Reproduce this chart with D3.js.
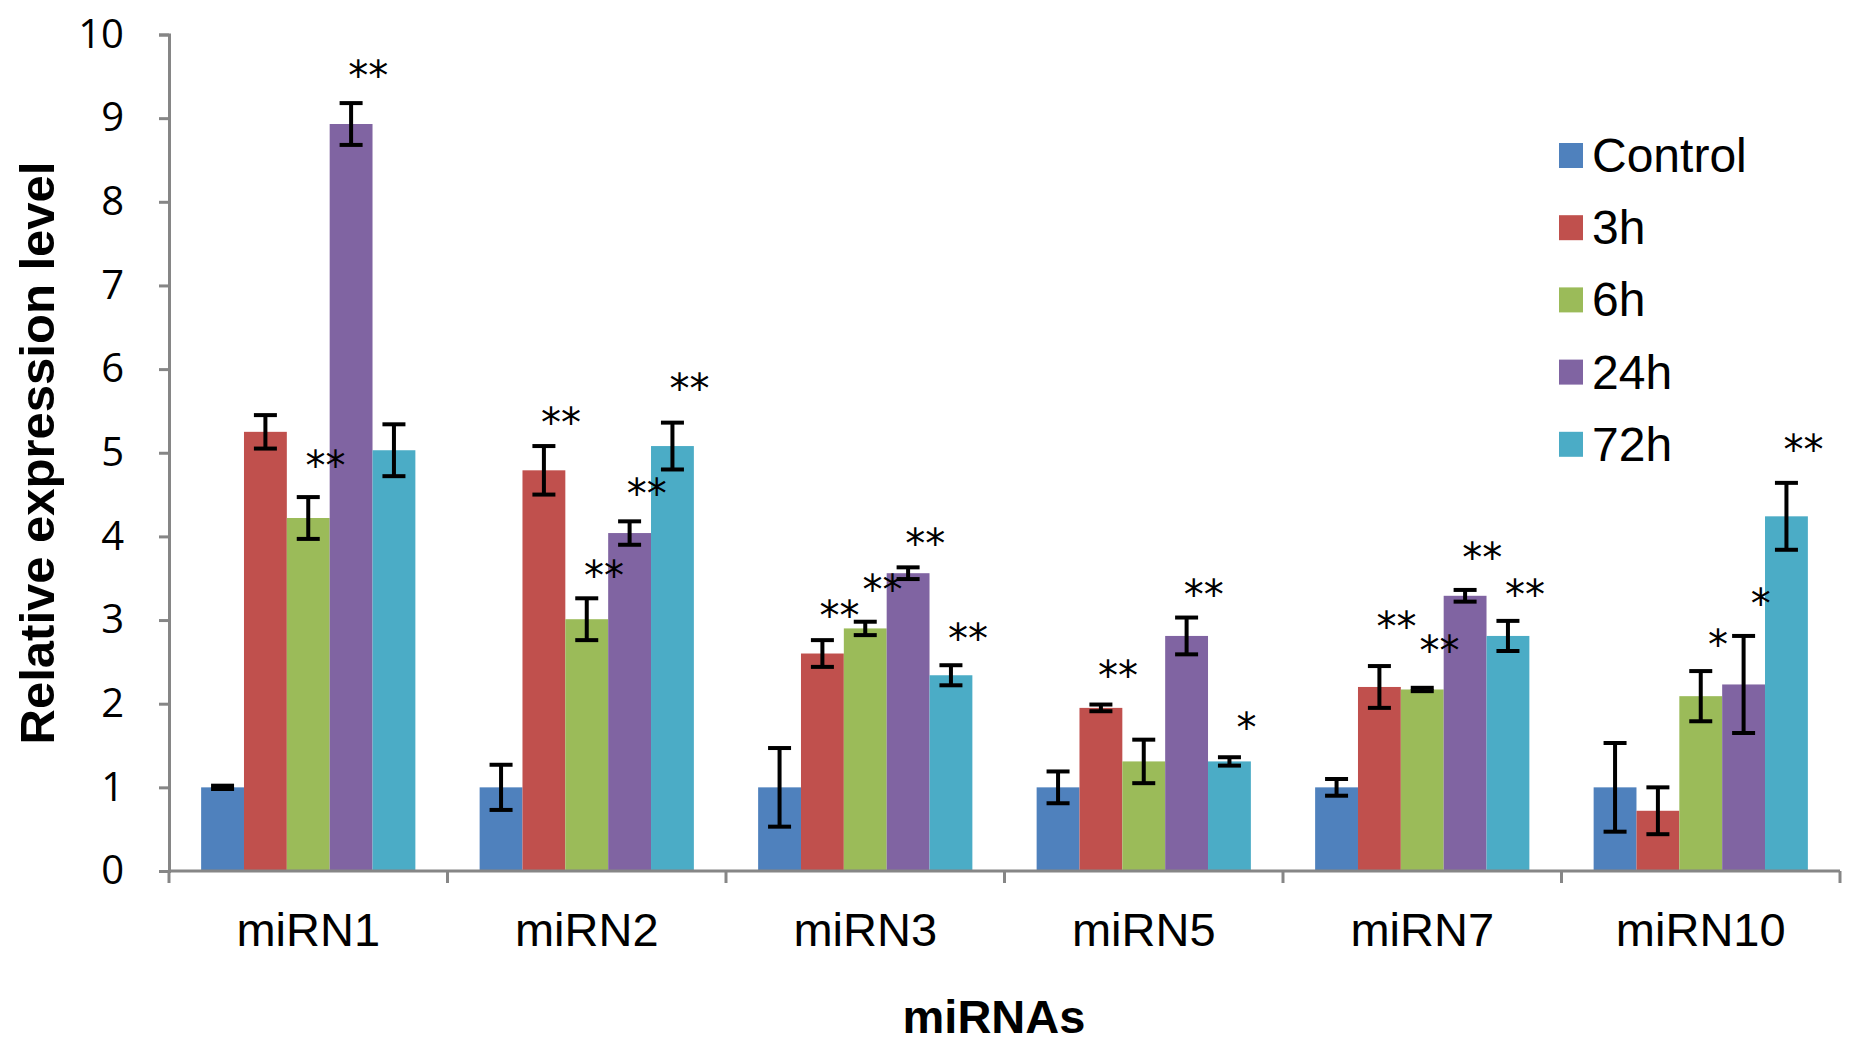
<!DOCTYPE html>
<html>
<head>
<meta charset="utf-8">
<script src="https://cdn.jsdelivr.net/npm/d3@7"></script>
<style>
  body { margin: 0; background: #fff; }
</style>
</head>
<body>
<script>
const categories = ["miRN1", "miRN2", "miRN3", "miRN5", "miRN7", "miRN10"];
const series = ["Control", "3h", "6h", "24h", "72h"];
const colors = ["#4F81BD", "#C0504D", "#9BBB59", "#8064A2", "#4BACC6"];

// mean values, one row per series (same order as categories)
const control = [1.0, 1.0, 1.0, 1.0, 1.0, 1.0];
const h3  = [5.25, 4.79, 2.60, 1.95, 2.20, 0.72];
const h6  = [4.22, 3.01, 2.90, 1.31, 2.17, 2.09];
const h24 = [8.93, 4.04, 3.56, 2.81, 3.29, 2.23];
const h72 = [5.03, 5.08, 2.34, 1.31, 2.81, 4.24];

// error bar half-widths
const errControl = [0.02, 0.27, 0.47, 0.19, 0.10, 0.53];
const err3  = [0.20, 0.29, 0.16, 0.04, 0.25, 0.28];
const err6  = [0.25, 0.25, 0.08, 0.26, 0.02, 0.30];
const err24 = [0.25, 0.14, 0.07, 0.22, 0.07, 0.58];
const err72 = [0.31, 0.28, 0.12, 0.05, 0.18, 0.40];

// significance marks: category, series, level (in y units), label
const starCat    = ["miRN1", "miRN1", "miRN2", "miRN2", "miRN2", "miRN2", "miRN3", "miRN3", "miRN3", "miRN3",
                    "miRN5", "miRN5", "miRN5", "miRN7", "miRN7", "miRN7", "miRN7", "miRN10", "miRN10", "miRN10"];
const starSeries = ["6h", "24h", "3h", "6h", "24h", "72h", "3h", "6h", "24h", "72h",
                    "3h", "24h", "72h", "3h", "6h", "24h", "72h", "6h", "24h", "72h"];
const starLevel  = [4.94, 9.6, 5.45, 3.62, 4.6, 5.86, 3.15, 3.45, 4.0, 2.87,
                    2.43, 3.4, 1.81, 3.01, 2.73, 3.84, 3.39, 2.8, 3.29, 5.13];
const starText   = ["**", "**", "**", "**", "**", "**", "**", "**", "**", "**",
                    "**", "**", "*", "**", "**", "**", "**", "*", "*", "**"];

const yTicks = [0, 1, 2, 3, 4, 5, 6, 7, 8, 9, 10];

const means = [control, h3, h6, h24, h72];
const errs = [errControl, err3, err6, err24, err72];

const W = 1855, H = 1042;
const plotL = 169, plotR = 1840, plotT = 34.5, plotB = 871;
const axisColor = '#868686';

const svg = d3.select('body').append('svg')
  .attr('width', W).attr('height', H);

const x = d3.scaleBand().domain(categories).range([plotL, plotR]);
const bw = x.bandwidth();
// Excel gap width 150%: bars take 5 / 6.5 of each category
const xs = d3.scaleBand().domain(series).range([bw * 0.75 / 6.5, bw * 5.75 / 6.5]);
const y = d3.scaleLinear().domain([0, 10]).range([plotB, plotT]);

const rows = [];
series.forEach((s, si) => {
  categories.forEach((c, ci) => {
    rows.push({ cat: c, ser: s, si: si, v: means[si][ci], e: errs[si][ci] });
  });
});

// bars
svg.append('g').selectAll('rect')
  .data(rows)
  .enter().append('rect')
  .attr('x', d => x(d.cat) + xs(d.ser))
  .attr('y', d => y(d.v))
  .attr('width', xs.bandwidth())
  .attr('height', d => y(0) - y(d.v))
  .attr('fill', d => colors[d.si]);

// error bars
const capW = 11.5;
const eb = svg.append('g').attr('stroke', '#000').attr('stroke-width', 4).attr('fill', 'none');
rows.forEach(d => {
  const cx = x(d.cat) + xs(d.ser) + xs.bandwidth() / 2;
  const y1 = y(d.v + d.e), y2 = y(d.v - d.e);
  eb.append('line').attr('x1', cx).attr('x2', cx).attr('y1', y1).attr('y2', y2);
  eb.append('line').attr('x1', cx - capW).attr('x2', cx + capW).attr('y1', y1).attr('y2', y1);
  eb.append('line').attr('x1', cx - capW).attr('x2', cx + capW).attr('y1', y2).attr('y2', y2);
});

// stars
svg.append('g').selectAll('text')
  .data(starLevel)
  .enter().append('text')
  .attr('x', (d, i) => x(starCat[i]) + xs(starSeries[i]) + xs.bandwidth() * 0.9)
  .attr('y', d => y(d) + 22)
  .attr('text-anchor', 'middle')
  .attr('font-family', 'DejaVu Sans')
  .attr('font-size', '40px')
  .attr('fill', '#000')
  .text((d, i) => starText[i]);

// y axis
const yAxis = d3.axisLeft(y).tickValues(yTicks).tickSize(10).tickPadding(8);
const gy = svg.append('g').attr('transform', `translate(${plotL},0)`).call(yAxis);
gy.select('.domain').attr('stroke', axisColor).attr('stroke-width', 3);
gy.selectAll('.tick line').attr('stroke', axisColor).attr('stroke-width', 3);
gy.selectAll('.tick text')
  .attr('x', -45)
  .attr('font-family', 'Open Sans')
  .attr('font-size', '40px')
  .attr('fill', '#000');

// x axis: ticks at category boundaries
const gx = svg.append('g').attr('transform', `translate(0,${plotB})`);
gx.append('line').attr('x1', plotL).attr('x2', plotR).attr('y1', 0).attr('y2', 0)
  .attr('stroke', axisColor).attr('stroke-width', 3);
const bounds = categories.map(c => x(c)).concat([plotR]);
gx.selectAll('line.tk').data(bounds).enter().append('line')
  .attr('class', 'tk')
  .attr('x1', d => d).attr('x2', d => d).attr('y1', 0).attr('y2', 12)
  .attr('stroke', axisColor).attr('stroke-width', 3);
gx.selectAll('text').data(categories).enter().append('text')
  .attr('x', d => x(d) + bw / 2)
  .attr('y', 75)
  .attr('text-anchor', 'middle')
  .attr('font-family', 'Liberation Sans, Arial, sans-serif')
  .attr('font-size', '47px')
  .attr('fill', '#000')
  .text(d => d);

// axis titles
svg.append('text')
  .attr('x', 994).attr('y', 1033)
  .attr('text-anchor', 'middle')
  .attr('font-family', 'Liberation Sans, Arial, sans-serif')
  .attr('font-weight', 'bold')
  .attr('font-size', '47px')
  .text('miRNAs');

svg.append('text')
  .attr('transform', 'translate(54,453) rotate(-90)')
  .attr('text-anchor', 'middle')
  .attr('font-family', 'Liberation Sans, Arial, sans-serif')
  .attr('font-weight', 'bold')
  .attr('font-size', '49px')
  .text('Relative expression level');

// legend
const lg = svg.append('g').attr('transform', 'translate(1559,155)');
const item = lg.selectAll('g').data(series).enter().append('g')
  .attr('transform', (d, i) => `translate(0,${i * 72.2})`);
item.append('rect').attr('x', 0).attr('y', -12).attr('width', 24).attr('height', 25)
  .attr('fill', (d, i) => colors[i]);
item.append('text').attr('x', 33).attr('y', 17)
  .attr('font-family', 'Liberation Sans, Arial, sans-serif')
  .attr('font-size', '48px')
  .attr('fill', '#000')
  .text(d => d);
</script>
</body>
</html>
